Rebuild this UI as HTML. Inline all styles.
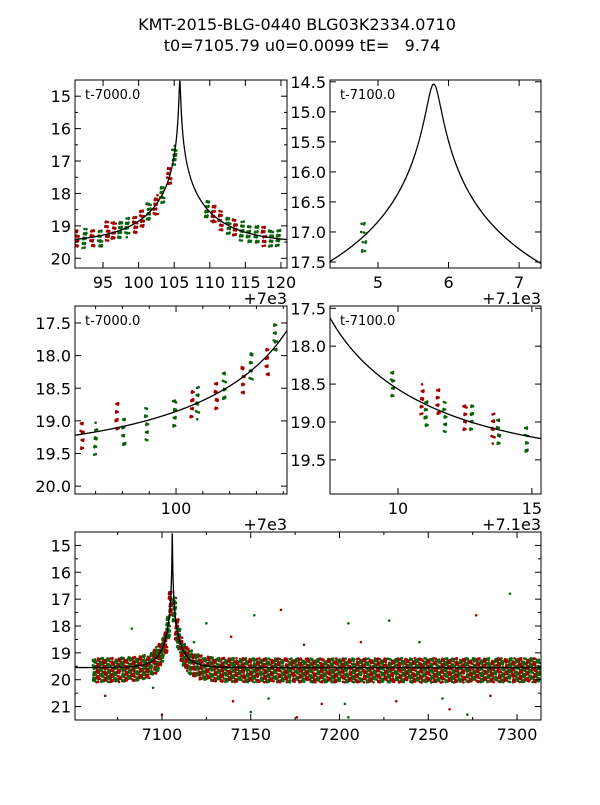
<!DOCTYPE html>
<html><head><meta charset="utf-8">
<style>
body{margin:0;background:#fff;}
svg text{font-family:"DejaVu Sans","Liberation Sans",sans-serif;}
</style></head>
<body>
<svg id="fig" width="600" height="800" viewBox="0 0 600 800" xmlns="http://www.w3.org/2000/svg">
<rect width="600" height="800" fill="#fff"/>
<text x="297" y="30" font-size="16" text-anchor="middle">KMT-2015-BLG-0440 BLG03K2334.0710</text>
<text x="302" y="51" font-size="16" text-anchor="middle" xml:space="preserve">t0=7105.79 u0=0.0099 tE=   9.74</text>
</svg>
<script>
// model parameters
const t0 = 7105.79, u0 = 0.0099, tE = 9.74, mBase = 19.55;

// panel 1 data clusters (t - 7000)
const p1Times = [91.3,92.4,93.5,94.6,95.6,96.5,97.4,98.4,99.5,100.5,101.4,102.4,103.3,104.3,105.0,109.6,110.5,111.5,112.6,113.5,114.5,115.5,116.6,117.6,118.6,119.6];
const p1Colors = ['r','g','r','g','r','r','g','g','r','r','g','r','g','r','g','g','r','r','g','r','g','g','g','r','g','g'];
const p1Bias = [0,0,0,0.1,-0.1,-0.1,0,0,0,0,0,0,0,0,0,0,0,0,0,0,0,0,0,0,0,0];
// panel 2 (t - 7100)
const p2Times = [4.8];
const p2Colors = ['g'];
const p2Bias = [0.05];
// panel 3 (t - 7000)
const p3Times = [96.5,97.0,97.8,98.05,98.9,99.95,100.6,100.8,101.5,101.8,102.5,102.8,103.4,103.7];
const p3Colors = ['r','g','r','g','g','g','r','g','r','g','r','g','r','g'];
const p3Bias = [0.05,0.1,-0.2,0.1,0.05,0,0,0,0,-0.05,0.1,-0.1,0.1,-0.1];
// panel 4 (t - 7100)
const p4Times = [9.8,10.9,11.05,11.5,11.75,12.5,12.75,13.55,13.75,14.8];
const p4Colors = ['g','r','g','r','g','r','g','r','g','g'];
const p4Bias = [0,-0.05,0.1,-0.1,0.05,-0.05,-0.05,0,0,0.05];
// panel 5 nights
const p5Times = [7062,7064,7066,7068,7070,7072,7074,7076,7078,7080,7082,7084,7086,7088,7090,7092,7094,7096,7097.5,7099,7100.5,7102,7103.5,7104.8,7107,7108.3,7109.5,7111,7112.5,7114,7116,7118,7120,7122,7124,7126,7128,7130,7132,7134,7136,7138,7140,7142,7144,7146,7148,7150,7152,7154,7156,7158,7160,7162,7164,7166,7168,7170,7172,7174,7176,7178,7180,7182,7184,7186,7188,7190,7192,7194,7196,7198,7200,7202,7204,7206,7208,7210,7212,7214,7216,7218,7220,7222,7224,7226,7228,7230,7232,7234,7236,7238,7240,7242,7244,7246,7248,7250,7252,7254,7256,7258,7260,7262,7264,7266,7268,7270,7272,7274,7276,7278,7280,7282,7284,7286,7288,7290,7292,7294,7296,7298,7300,7302,7304,7306,7308,7310,7312];
const p5Outliers = [[7083,18.1],[7108,17.9],[7125,17.9],[7139,18.4],[7152,17.6],[7167,17.4],[7205,17.9],[7212,18.6],[7228,17.8],[7277,17.6],[7296,16.8],[7100,21.3],[7150,21.2],[7176,21.4],[7205,21.4],[7262,21.1],[7272,21.3],[7068,20.6],[7095,20.3],[7140,20.8],[7160,20.7],[7190,20.9],[7203,20.9],[7232,20.8],[7258,20.7],[7285,20.6],[7118,18.6],[7180,18.7],[7245,18.6]];

const NS='http://www.w3.org/2000/svg';
const svg=document.getElementById('fig');
function model(t){const tau=(t-t0)/tE;const u=Math.sqrt(u0*u0+tau*tau);const A=(u*u+2)/(u*Math.sqrt(u*u+4));return mBase-2.5*Math.log10(A);}
function mk(tag,attrs,parent){const e=document.createElementNS(NS,tag);for(const k in attrs)e.setAttribute(k,attrs[k]);(parent||svg).appendChild(e);return e;}
const COL={r:'#a40000',g:'#0b640b'};

function panel(cfg){
  const {name,x0,y0,w,h,xmin,xmax,ymin,ymax,off}=cfg;
  const X=t=>x0+(t-xmin)/(xmax-xmin)*w;
  const Y=m=>y0+(m-ymin)/(ymax-ymin)*h;
  const g=mk('g',{});
  
  
  const cid='clip-'+name;
  const cp=mk('clipPath',{id:cid},g);mk('rect',{x:x0,y:y0,width:w,height:h},cp);
  const plot=mk('g',{'clip-path':'url(#'+cid+')'},g);
  const pts=mk('g',{},plot);
  
  
  cfg.times.forEach((tt,i)=>{
    const n=cfg.n||14;const sp=cfg.spread||0.25;const wd=cfg.width||0.5;
    const c=model(tt+off)+(cfg.bias?cfg.bias[i]:0.1);
    for(let k=0;k<n;k++){
      const dt=(((k*0.618034+i*0.31)%1)-0.5)*wd;
      const dm=(((k*0.754877+i*0.17+0.3)%1)-0.5)*2*sp;
      mk('circle',{cx:X(tt+dt).toFixed(1),cy:Y(c+dm).toFixed(1),r:1.3,fill:COL[cfg.colors?cfg.colors[i]:(i%2?'r':'g')]},pts);
    }
  });
  if(cfg.outliers)cfg.outliers.forEach((p,i)=>mk('circle',{cx:X(p[0]),cy:Y(p[1]),r:1.3,fill:COL[i%2?'r':'g']},pts));
  let d='';const N=6000;
  for(let i=0;i<=N;i++){const t=xmin+(xmax-xmin)*i/N;d+=(i?'L':'M')+X(t).toFixed(2)+','+Y(model(t+off)).toFixed(2);}
  const cv=mk('path',{d:d,fill:'none',stroke:'#000','stroke-width':1.3},plot);
  
  
  mk('rect',{x:x0,y:y0,width:w,height:h,fill:'none',stroke:'#000','stroke-width':1},g);
  cfg.xt.forEach(v=>{const x=X(v);mk('line',{x1:x,x2:x,y1:y0+h,y2:y0+h-6,stroke:'#000'},g);mk('line',{x1:x,x2:x,y1:y0,y2:y0+6,stroke:'#000'},g);
    const t=mk('text',{x:x,y:y0+h+20,'font-size':16,'text-anchor':'middle'},g);t.textContent=cfg.xf?cfg.xf(v):v;
    
    });
  cfg.yt.forEach(v=>{const y=Y(v);mk('line',{x1:x0,x2:x0+6,y1:y,y2:y,stroke:'#000'},g);mk('line',{x1:x0+w,x2:x0+w-6,y1:y,y2:y,stroke:'#000'},g);
    const t=mk('text',{x:x0-4,y:y+6,'font-size':16,'text-anchor':'end'},g);t.textContent=cfg.yf?cfg.yf(v):v;
    
    });
  (cfg.ym||[]).forEach(v=>{const y=Y(v);mk('line',{x1:x0,x2:x0+3,y1:y,y2:y,stroke:'#000'},g);mk('line',{x1:x0+w,x2:x0+w-3,y1:y,y2:y,stroke:'#000'},g);});
  (cfg.xm||[]).forEach(v=>{const x=X(v);mk('line',{x1:x,x2:x,y1:y0+h,y2:y0+h-3,stroke:'#000'},g);mk('line',{x1:x,x2:x,y1:y0,y2:y0+3,stroke:'#000'},g);});
  if(cfg.label){const t=mk('text',{x:x0+10,y:y0+19,'font-size':13},g);t.textContent=cfg.label;
    
    }
  if(cfg.offLabel){const t=mk('text',{x:x0+w,y:y0+h+36,'font-size':16,'text-anchor':'end'},g);t.textContent=cfg.offLabel;
    
    }
}
const f1=v=>v.toFixed(1);
panel({name:'panel-zoom-peak',x0:75,y0:80,w:212,h:188,xmin:91.06,xmax:120.85,ymin:14.5,ymax:20.3,off:7000,
  times:p1Times,colors:p1Colors,bias:p1Bias,n:18,spread:0.3,width:0.6,
  xt:[95,100,105,110,115,120],yt:[15,16,17,18,19,20],ym:[14.5,15.5,16.5,17.5,18.5,19.5],label:'t-7000.0',offLabel:'+7e3'});
panel({name:'panel-peak-detail',x0:330,y0:80,w:211,h:188,xmin:4.32,xmax:7.31,ymin:14.47,ymax:17.6,off:7100,
  times:p2Times,colors:p2Colors,bias:p2Bias,n:12,spread:0.3,width:0.08,
  xt:[5,6,7],yt:[14.5,15,15.5,16,16.5,17,17.5],yf:f1,label:'t-7100.0',offLabel:'+7.1e3'});
panel({name:'panel-rise',x0:75,y0:306,w:212,h:188,xmin:96.23,xmax:104.14,ymin:17.24,ymax:20.12,off:7000,
  times:p3Times,colors:p3Colors,bias:p3Bias,n:13,spread:0.25,width:0.12,
  xt:[100],xm:[97,98,99,101,102,103,104],yt:[17.5,18,18.5,19,19.5,20],yf:f1,label:'t-7000.0',offLabel:'+7e3'});
panel({name:'panel-fall',x0:330,y0:306,w:211,h:188,xmin:7.46,xmax:15.34,ymin:17.47,ymax:19.95,off:7100,
  times:p4Times,colors:p4Colors,bias:p4Bias,n:13,spread:0.2,width:0.12,
  xt:[10,15],yt:[17.5,18,18.5,19,19.5],yf:f1,label:'t-7100.0',offLabel:'+7.1e3'});
panel({name:'panel-full-season',x0:75,y0:532,w:466,h:188,xmin:7051,xmax:7313.5,ymin:14.5,ymax:21.5,off:0,
  times:p5Times,n:32,spread:0.45,width:1.9,outliers:p5Outliers,
  xt:[7100,7150,7200,7250,7300],xm:[7075,7125,7175,7225,7275],yt:[15,16,17,18,19,20,21],ym:[15.5,16.5,17.5,18.5,19.5,20.5]});
</script>
</body></html>
